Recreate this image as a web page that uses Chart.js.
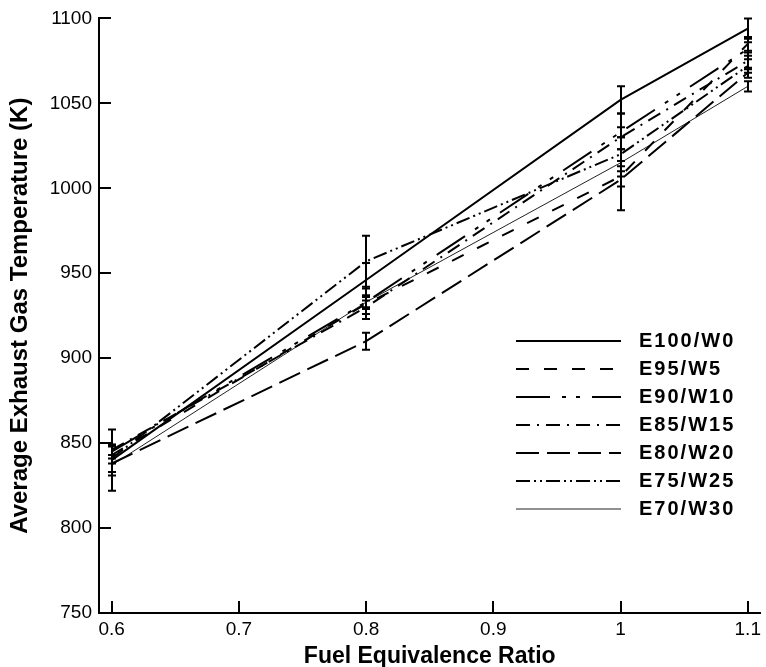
<!DOCTYPE html>
<html>
<head>
<meta charset="utf-8">
<script src="https://cdn.jsdelivr.net/npm/chart.js@4.4.1/dist/chart.umd.min.js"></script>
<style>
  html, body { margin: 0; padding: 0; background: #fff; }
  #wrap { width: 766px; height: 667px; }
</style>
</head>
<body>
<div id="wrap"><canvas id="chartExhaustTemp"></canvas></div>
<script>
// fuel equivalence ratio (x)
var ratio = [0.6, 0.8, 1.0, 1.1];
var xTicks = [0.6, 0.7, 0.8, 0.9, 1.0, 1.1];
var yTicks = [750, 800, 850, 900, 950, 1000, 1050, 1100];

var seriesNames = ['E100/W0', 'E95/W5', 'E90/W10', 'E85/W15', 'E80/W20', 'E75/W25', 'E70/W30'];

// average exhaust gas temperature (K)
var tE100 = [840, 946, 1052, 1094];
var tE95  = [843, 932, 1007, 1085];
var tE90  = [845, 933, 1033, 1082];
var tE85  = [846, 930, 1030, 1075];
var tE80  = [838, 910, 1005, 1068];
var tE75  = [841, 957, 1020, 1072];
var tE70  = [837, 933, 1015, 1060];

// error bar half widths (K)
var eE100 = [18, 10, 8, 6];
var eE95  = [5, 9, 6, 4];
var eE90  = [4, 4, 3, 4];
var eE85  = [3, 4, 14, 5];
var eE80  = [5, 5, 18, 3];
var eE75  = [8, 15, 10, 4];
var eE70  = [6, 3, 8, 3];

var temps = [tE100, tE95, tE90, tE85, tE80, tE75, tE70];
var errs = [eE100, eE95, eE90, eE85, eE80, eE75, eE70];
var dashes = [[], [13, 15], [34, 12, 4, 10, 4, 12], [14, 7, 2, 7], [23, 8], [14, 4, 2, 4, 2, 4], []];
var widths = [2, 2, 2, 2, 2, 2, 1];
var colors = ['#000', '#000', '#000', '#000', '#000', '#000', '#222'];

var datasets = temps.map(function(t, k){
    return {
        label: seriesNames[k],
        data: t.map(function(v, i){ return {x: ratio[i], y: v}; }),
        borderColor: colors[k],
        borderWidth: widths[k],
        borderDash: dashes[k],
        pointRadius: 0,
        fill: false,
        tension: 0,
        errs: errs[k]
    };
});

var font = "'Liberation Sans', Arial, sans-serif";

var errorBars = {
    id: 'errorBars',
    afterDatasetsDraw: function(chart){
        var ctx = chart.ctx, xs = chart.scales.x, ys = chart.scales.y;
        ctx.save();
        ctx.strokeStyle = '#000';
        ctx.lineWidth = 2;
        ctx.setLineDash([]);
        chart.data.datasets.forEach(function(ds){
            ds.data.forEach(function(p, i){
                var x = Math.round(xs.getPixelForValue(p.x));
                var y1 = ys.getPixelForValue(p.y - ds.errs[i]);
                var y2 = ys.getPixelForValue(p.y + ds.errs[i]);
                ctx.beginPath();
                ctx.moveTo(x, y1); ctx.lineTo(x, y2);
                ctx.moveTo(x - 4, y1); ctx.lineTo(x + 4, y1);
                ctx.moveTo(x - 4, y2); ctx.lineTo(x + 4, y2);
                ctx.stroke();
            });
        });
        ctx.restore();
    }
};

var innerTicks = {
    id: 'innerTicks',
    afterDraw: function(chart){
        var ctx = chart.ctx, xs = chart.scales.x, ys = chart.scales.y, a = chart.chartArea;
        ctx.save();
        ctx.strokeStyle = '#000';
        ctx.lineWidth = 2;
        ctx.beginPath();
        xTicks.forEach(function(v){
            var x = Math.round(xs.getPixelForValue(v));
            ctx.moveTo(x, a.bottom); ctx.lineTo(x, a.bottom - 12);
        });
        yTicks.forEach(function(v){
            var y = Math.round(ys.getPixelForValue(v));
            ctx.moveTo(a.left, y); ctx.lineTo(a.left + 12, y);
        });
        ctx.stroke();

        // legend
        var lx = 516, ly = 341, step = 28;
        ctx.font = 'bold 20px ' + font;
        ctx.textBaseline = 'middle';
        ctx.fillStyle = '#000';
        chart.data.datasets.forEach(function(ds, k){
            var y = ly + k * step;
            ctx.beginPath();
            ctx.lineWidth = ds.borderWidth;
            ctx.strokeStyle = ds.borderColor;
            ctx.setLineDash(ds.borderDash);
            ctx.moveTo(lx, y); ctx.lineTo(lx + 105, y);
            ctx.stroke();
            ctx.setLineDash([]);
            ctx.letterSpacing = '2px';
            ctx.fillText(ds.label, 639, y);
        });
        ctx.restore();
    }
};

const config_exhaust = {
    type: 'line',
    data: { datasets: datasets },
    options: {
        responsive: true,
        maintainAspectRatio: false,
        animation: false,
        layout: { padding: { top: 17, right: 3, left: 0, bottom: 0 } },
        plugins: { legend: { display: false }, tooltip: { enabled: false } },
        scales: {
            x: {
                type: 'linear',
                min: 0.59,
                max: 1.11,
                afterBuildTicks: function(s){ s.ticks = xTicks.map(function(v){ return {value: v}; }); },
                afterFit: function(s){ s.height = 54; },
                grid: { display: false, drawTicks: false },
                border: { display: true, color: '#000', width: 2 },
                ticks: {
                    color: '#000',
                    padding: 5,
                    font: { family: font, size: 19 },
                    maxRotation: 0,
                    callback: function(v){ return String(Math.round(v * 10) / 10); }
                },
                title: {
                    display: true,
                    text: 'Fuel Equivalence Ratio',
                    color: '#000',
                    font: { family: font, size: 23, weight: 'bold' },
                    padding: { top: 0, bottom: -3 }
                }
            },
            y: {
                min: 750,
                max: 1100,
                afterBuildTicks: function(s){ s.ticks = yTicks.map(function(v){ return {value: v}; }); },
                afterFit: function(s){ s.width = 99; },
                grid: { display: false, drawTicks: false },
                border: { display: true, color: '#000', width: 2 },
                ticks: {
                    color: '#000',
                    padding: 7,
                    font: { family: font, size: 19 },
                    callback: function(v){ return String(v); }
                },
                title: {
                    display: true,
                    text: 'Average Exhaust Gas Temperature (K)',
                    color: '#000',
                    font: { family: font, size: 24, weight: 'bold' },
                    padding: { top: 6, bottom: 0 }
                }
            }
        }
    },
    plugins: [errorBars, innerTicks]
};

const chartExhaustTemp = new Chart(
    document.getElementById('chartExhaustTemp'),
    config_exhaust
);
</script>
</body>
</html>
